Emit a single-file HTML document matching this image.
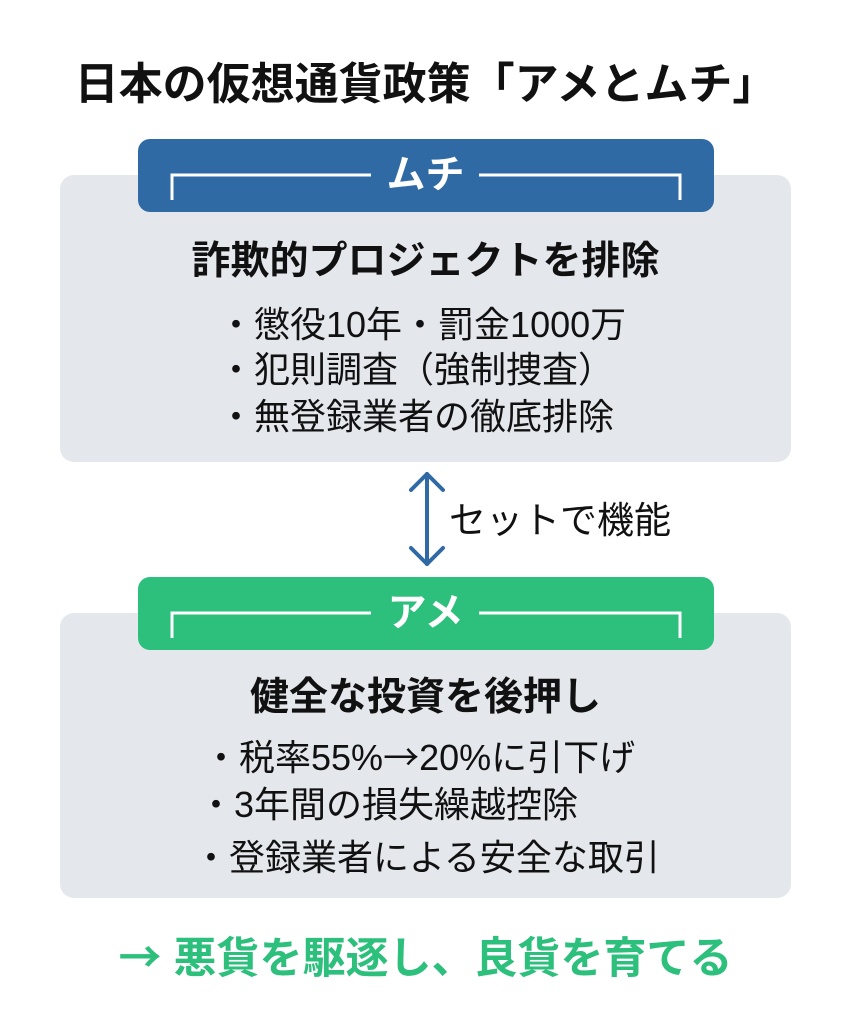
<!DOCTYPE html>
<html><head><meta charset="utf-8"><style>
body{margin:0;width:851px;height:1024px;background:#fff;position:relative;overflow:hidden;font-family:"Liberation Sans","Noto Sans CJK JP",sans-serif;color:#111}
.a{position:absolute;white-space:nowrap;line-height:1}
.panel{position:absolute;left:60px;width:731px;background:#e4e7ec;border-radius:14px}
.hdr{position:absolute;left:138px;width:576px;height:73px;border-radius:12px}
.t{font-size:36px}
.c{left:0;width:851px;text-align:center}
.ar{font-family:"Noto Sans CJK JP",sans-serif}
</style></head><body>
<div class="a c" style="top:63px;font-size:44px;font-weight:bold">日本の仮想通貨政策「アメとムチ」</div>

<div class="panel" style="top:175px;height:287px"></div>
<div class="hdr" style="top:139px;background:#2f6aa5"></div>
<div class="panel" style="top:613px;height:285px"></div>
<div class="hdr" style="top:577px;background:#2dbf7c"></div>
<svg class="a" style="left:0;top:0" width="851" height="1024">
<g stroke="#fff" stroke-width="3" fill="none">
<polyline points="172,200 172,175 371,175"/><polyline points="479,175 680,175 680,200"/>
<polyline points="172,638 172,613 371,613"/><polyline points="479,613 680,613 680,638"/>
</g>
<g stroke="#2f6aa5" stroke-width="4" fill="none" stroke-linecap="round" stroke-linejoin="round">
<line x1="427" y1="474" x2="427" y2="564"/><polyline points="411,490 427,474 443,490"/><polyline points="411,548 427,564 443,548"/>
</g>
</svg>
<div class="a c" style="top:156px;font-size:39px;font-weight:bold;color:#fff">ムチ</div>
<div class="a c" style="top:242px;font-size:39px;font-weight:bold">詐欺的プロジェクトを排除</div>
<div class="a t" style="left:218px;top:307px">・懲役10年・罰金1000万</div>
<div class="a t" style="left:218px;top:352px">・犯則調査（強制捜査）</div>
<div class="a t" style="left:218px;top:399px">・無登録業者の徹底排除</div>

<div class="a" style="left:449px;top:502px;font-size:37px">セットで機能</div>

<div class="a c" style="top:594px;font-size:39px;font-weight:bold;color:#fff">アメ</div>
<div class="a c" style="top:678px;font-size:39px;font-weight:bold">健全な投資を後押し</div>
<div class="a t" style="left:203px;top:737px">・税率55%<span class="ar">→</span>20%に引下げ</div>
<div class="a t" style="left:198px;top:787px">・3年間の損失繰越控除</div>
<div class="a t" style="left:193px;top:840px">・登録業者による安全な取引</div>

<div class="a c" style="top:934px;font-size:43px;font-weight:bold;color:#2dbf7c"><span class="ar">→</span> 悪貨を駆逐し、良貨を育てる</div>
</body></html>
